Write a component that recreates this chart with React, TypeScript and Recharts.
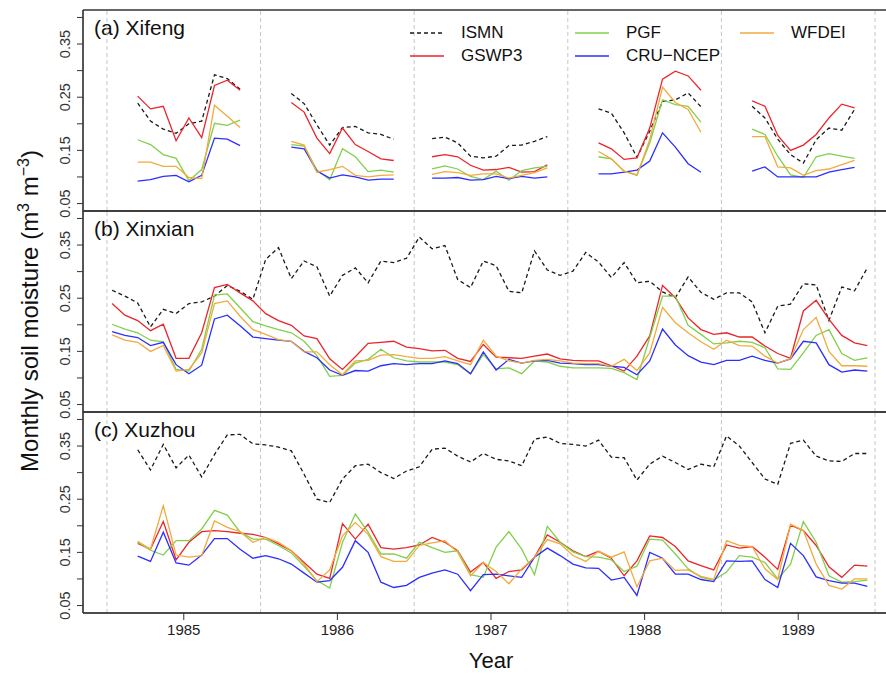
import {
  LineChart,
  Line,
  XAxis,
  YAxis,
  ReferenceLine,
  Legend,
  Customized,
} from 'recharts';

// monthly time axis, Jul 1984 .. Jun 1989 (decimal years)
const months = Array.from({ length: 60 }, (_, i) => 1984.5 + (i + 0.4) / 12);
const yearTicks = [1985, 1986, 1987, 1988, 1989];
const yearBreaks = [1984.5, 1985.5, 1986.5, 1987.5, 1988.5, 1989.5];
const yTicks = [0.05, 0.1, 0.15, 0.2, 0.25, 0.3, 0.35, 0.4];

const _ = null;

// (a) Xifeng
const ismnA = [_, _, 0.239, 0.205, 0.19, 0.182, 0.2, 0.205, 0.292, 0.285, 0.265, _, _, _, 0.257, 0.238, 0.198, 0.16, 0.193, 0.195, 0.183, 0.18, 0.171, _, _, 0.172, 0.175, 0.164, 0.139, 0.136, 0.139, 0.159, 0.16, 0.167, 0.176, _, _, _, 0.228, 0.22, 0.183, 0.137, 0.186, 0.242, 0.245, 0.258, 0.232, _, _, _, 0.233, 0.211, 0.171, 0.142, 0.126, 0.17, 0.192, 0.188, 0.227, _];
const gswpA = [_, _, 0.252, 0.228, 0.233, 0.168, 0.211, 0.174, 0.272, 0.282, 0.263, _, _, _, 0.24, 0.222, 0.173, 0.144, 0.192, 0.161, 0.148, 0.134, 0.131, _, _, 0.138, 0.142, 0.138, 0.122, 0.113, 0.114, 0.118, 0.109, 0.11, 0.123, _, _, _, 0.164, 0.153, 0.133, 0.136, 0.192, 0.284, 0.299, 0.29, 0.263, _, _, _, 0.243, 0.233, 0.178, 0.15, 0.16, 0.18, 0.211, 0.237, 0.23, _];
const pgfA = [_, _, 0.17, 0.161, 0.142, 0.135, 0.093, 0.114, 0.201, 0.197, 0.207, _, _, _, 0.161, 0.158, 0.113, 0.095, 0.153, 0.138, 0.11, 0.113, 0.109, _, _, 0.115, 0.121, 0.115, 0.101, 0.095, 0.111, 0.094, 0.112, 0.117, 0.12, _, _, _, 0.138, 0.134, 0.111, 0.104, 0.164, 0.245, 0.236, 0.233, 0.203, _, _, _, 0.19, 0.18, 0.139, 0.104, 0.099, 0.138, 0.144, 0.139, 0.135, _];
const wfdeiA = [_, _, 0.128, 0.128, 0.12, 0.12, 0.099, 0.097, 0.235, 0.214, 0.193, _, _, _, 0.167, 0.16, 0.109, 0.114, 0.12, 0.103, 0.1, 0.103, 0.104, _, _, 0.105, 0.11, 0.108, 0.103, 0.106, 0.106, 0.098, 0.103, 0.108, 0.117, _, _, _, 0.148, 0.134, 0.111, 0.103, 0.17, 0.269, 0.24, 0.227, 0.184, _, _, _, 0.176, 0.176, 0.119, 0.117, 0.103, 0.112, 0.115, 0.123, 0.131, _];
const cruA = [_, _, 0.092, 0.095, 0.101, 0.103, 0.091, 0.103, 0.173, 0.171, 0.159, _, _, _, 0.156, 0.153, 0.111, 0.098, 0.104, 0.1, 0.094, 0.096, 0.096, _, _, 0.098, 0.098, 0.099, 0.094, 0.095, 0.101, 0.097, 0.101, 0.098, 0.1, _, _, _, 0.106, 0.106, 0.109, 0.113, 0.13, 0.183, 0.156, 0.125, 0.109, _, _, _, 0.111, 0.119, 0.1, 0.1, 0.1, 0.1, 0.109, 0.114, 0.118, _];

// (b) Xinxian
const ismnB = [0.265, 0.254, 0.241, 0.196, 0.229, 0.221, 0.24, 0.243, 0.254, 0.274, 0.263, 0.248, 0.323, 0.345, 0.287, 0.32, 0.309, 0.254, 0.293, 0.307, 0.279, 0.32, 0.317, 0.325, 0.365, 0.343, 0.349, 0.285, 0.27, 0.32, 0.311, 0.263, 0.26, 0.339, 0.303, 0.293, 0.301, 0.336, 0.318, 0.289, 0.317, 0.279, 0.282, 0.262, 0.251, 0.29, 0.261, 0.248, 0.26, 0.26, 0.243, 0.185, 0.235, 0.239, 0.277, 0.275, 0.208, 0.271, 0.264, 0.307];
const gswpB = [0.24, 0.218, 0.208, 0.189, 0.201, 0.137, 0.137, 0.185, 0.27, 0.276, 0.26, 0.245, 0.221, 0.208, 0.199, 0.179, 0.174, 0.136, 0.116, 0.14, 0.165, 0.167, 0.169, 0.158, 0.155, 0.151, 0.152, 0.137, 0.131, 0.163, 0.139, 0.138, 0.137, 0.141, 0.145, 0.136, 0.133, 0.132, 0.132, 0.123, 0.113, 0.141, 0.179, 0.274, 0.251, 0.213, 0.191, 0.182, 0.185, 0.177, 0.177, 0.16, 0.146, 0.137, 0.226, 0.246, 0.21, 0.18, 0.166, 0.161];
const pgfB = [0.201, 0.192, 0.185, 0.171, 0.168, 0.116, 0.113, 0.154, 0.256, 0.258, 0.232, 0.206, 0.198, 0.191, 0.185, 0.169, 0.142, 0.103, 0.105, 0.128, 0.135, 0.154, 0.138, 0.132, 0.13, 0.13, 0.13, 0.125, 0.108, 0.144, 0.117, 0.119, 0.108, 0.132, 0.13, 0.122, 0.119, 0.119, 0.119, 0.118, 0.11, 0.097, 0.176, 0.254, 0.254, 0.199, 0.182, 0.164, 0.166, 0.169, 0.167, 0.157, 0.117, 0.116, 0.147, 0.18, 0.191, 0.146, 0.133, 0.138];
const wfdeiB = [0.181, 0.171, 0.167, 0.15, 0.161, 0.113, 0.116, 0.147, 0.24, 0.245, 0.216, 0.191, 0.182, 0.172, 0.169, 0.149, 0.149, 0.125, 0.106, 0.132, 0.133, 0.143, 0.144, 0.14, 0.137, 0.137, 0.14, 0.132, 0.125, 0.171, 0.141, 0.132, 0.128, 0.133, 0.135, 0.132, 0.128, 0.127, 0.127, 0.122, 0.135, 0.114, 0.147, 0.233, 0.204, 0.185, 0.168, 0.154, 0.171, 0.161, 0.16, 0.141, 0.128, 0.136, 0.191, 0.214, 0.15, 0.123, 0.123, 0.122];
const cruB = [0.187, 0.18, 0.176, 0.161, 0.167, 0.125, 0.108, 0.124, 0.211, 0.218, 0.198, 0.177, 0.174, 0.171, 0.169, 0.15, 0.138, 0.115, 0.105, 0.114, 0.113, 0.123, 0.127, 0.125, 0.127, 0.127, 0.132, 0.127, 0.108, 0.149, 0.115, 0.135, 0.128, 0.132, 0.133, 0.128, 0.127, 0.125, 0.125, 0.122, 0.12, 0.106, 0.132, 0.192, 0.162, 0.142, 0.13, 0.125, 0.133, 0.133, 0.141, 0.133, 0.128, 0.136, 0.169, 0.166, 0.125, 0.111, 0.115, 0.113];

// (c) Xuzhou
const ismnC = [_, _, 0.343, 0.305, 0.353, 0.309, 0.333, 0.292, 0.334, 0.371, 0.372, 0.354, 0.352, 0.348, 0.341, 0.297, 0.25, 0.244, 0.288, 0.313, 0.316, 0.3, 0.289, 0.303, 0.311, 0.344, 0.346, 0.331, 0.32, 0.336, 0.325, 0.322, 0.313, 0.363, 0.367, 0.355, 0.353, 0.35, 0.361, 0.329, 0.328, 0.286, 0.316, 0.331, 0.319, 0.306, 0.316, 0.311, 0.369, 0.35, 0.319, 0.288, 0.278, 0.355, 0.361, 0.331, 0.322, 0.321, 0.336, 0.336];
const gswpC = [_, _, 0.167, 0.156, 0.208, 0.136, 0.169, 0.189, 0.191, 0.189, 0.186, 0.184, 0.178, 0.166, 0.153, 0.131, 0.109, 0.101, 0.204, 0.175, 0.203, 0.159, 0.156, 0.159, 0.164, 0.178, 0.169, 0.153, 0.113, 0.131, 0.101, 0.114, 0.117, 0.141, 0.183, 0.169, 0.153, 0.142, 0.152, 0.139, 0.106, 0.134, 0.181, 0.178, 0.161, 0.134, 0.125, 0.117, 0.164, 0.158, 0.161, 0.141, 0.118, 0.201, 0.191, 0.163, 0.123, 0.103, 0.126, 0.124];
const pgfC = [_, _, 0.169, 0.154, 0.145, 0.172, 0.172, 0.194, 0.229, 0.22, 0.188, 0.175, 0.175, 0.163, 0.149, 0.124, 0.097, 0.083, 0.169, 0.222, 0.188, 0.147, 0.147, 0.139, 0.169, 0.159, 0.15, 0.153, 0.108, 0.103, 0.16, 0.189, 0.156, 0.108, 0.199, 0.169, 0.151, 0.142, 0.141, 0.136, 0.114, 0.124, 0.175, 0.173, 0.147, 0.119, 0.103, 0.098, 0.113, 0.144, 0.141, 0.131, 0.1, 0.128, 0.208, 0.169, 0.106, 0.094, 0.095, 0.098];
const wfdeiC = [_, _, 0.171, 0.156, 0.238, 0.145, 0.141, 0.144, 0.209, 0.197, 0.189, 0.169, 0.178, 0.169, 0.153, 0.128, 0.095, 0.117, 0.181, 0.206, 0.184, 0.142, 0.133, 0.133, 0.163, 0.168, 0.172, 0.15, 0.106, 0.131, 0.114, 0.091, 0.119, 0.141, 0.174, 0.166, 0.144, 0.133, 0.152, 0.141, 0.151, 0.085, 0.134, 0.139, 0.116, 0.117, 0.105, 0.099, 0.172, 0.163, 0.161, 0.119, 0.099, 0.203, 0.191, 0.128, 0.088, 0.081, 0.1, 0.1];
const cruC = [_, _, 0.143, 0.133, 0.188, 0.13, 0.126, 0.145, 0.176, 0.176, 0.156, 0.139, 0.144, 0.138, 0.128, 0.111, 0.094, 0.097, 0.122, 0.172, 0.15, 0.094, 0.084, 0.088, 0.103, 0.111, 0.117, 0.109, 0.078, 0.108, 0.109, 0.106, 0.103, 0.141, 0.158, 0.144, 0.128, 0.121, 0.12, 0.098, 0.103, 0.069, 0.15, 0.139, 0.109, 0.109, 0.099, 0.095, 0.134, 0.133, 0.134, 0.099, 0.084, 0.167, 0.144, 0.104, 0.097, 0.092, 0.092, 0.086];

const series = [
  { key: 'ISMN', color: '#1a1a1a', dash: '4 3' },
  { key: 'GSWP3', color: '#e9262b' },
  { key: 'PGF', color: '#80d04c' },
  { key: 'CRU−NCEP', color: '#2d2dff' },
  { key: 'WFDEI', color: '#f2aa3c' },
];

const buildRows = (cols: (number | null)[][]) =>
  months.map((x, i) => {
    const row: Record<string, number | null> = { x };
    series.forEach((s, j) => {
      row[s.key] = cols[j][i];
    });
    return row;
  });

const panels = [
  { title: '(a) Xifeng', rows: buildRows([ismnA, gswpA, pgfA, cruA, wfdeiA]), top: 10 },
  { title: '(b) Xinxian', rows: buildRows([ismnB, gswpB, pgfB, cruB, wfdeiB]), top: 211 },
  { title: '(c) Xuzhou', rows: buildRows([ismnC, gswpC, pgfC, cruC, wfdeiC]), top: 412 },
];

const W = 910;
const H = 676;
const PANEL_H = 201;
const xDomain = [1984.344, 1989.656];
const yDomain = [0.036, 0.414];
const axisColor = '#333';

// legend layout: 3 columns, 2 rows
const legendSlots = [
  { key: 'ISMN', x: 410, y: 33 },
  { key: 'GSWP3', x: 410, y: 56 },
  { key: 'PGF', x: 575, y: 33 },
  { key: 'CRU−NCEP', x: 575, y: 56 },
  { key: 'WFDEI', x: 740, y: 33 },
];

function LegendBox() {
  return (
    <div style={{ position: 'relative', width: 886, height: 70 }}>
      {legendSlots.map((slot) => {
        const s = series.find((d) => d.key === slot.key)!;
        return (
          <div key={slot.key}>
            <svg
              width={34}
              height={4}
              style={{ position: 'absolute', left: slot.x, top: slot.y - 2 }}
            >
              <line x1={0} x2={34} y1={2} y2={2} stroke={s.color} strokeWidth={1.3} strokeDasharray={s.dash} />
            </svg>
            <span
              style={{
                position: 'absolute',
                left: slot.x + 51,
                top: slot.y - 10,
                fontSize: 17,
                lineHeight: '20px',
                color: '#111',
                whiteSpace: 'nowrap',
              }}
            >
              {s.key}
            </span>
          </div>
        );
      })}
    </div>
  );
}

function YTick(props: any) {
  const { x, y, payload } = props;
  const v = payload.value as number;
  if (Math.round(v * 100) % 10 !== 5) return <g />;
  return (
    <text
      transform={`translate(${x - 5},${y}) rotate(-90)`}
      textAnchor="middle"
      fontSize={14.5}
      fill="#333"
    >
      {v.toFixed(2)}
    </text>
  );
}

export default function App() {
  return (
    <div
      style={{
        position: 'fixed',
        left: 0,
        top: 0,
        width: 886,
        height: H,
        overflow: 'hidden',
        background: '#fff',
        fontFamily: "'Liberation Sans', Arial, Helvetica, sans-serif",
      }}
    >
      {panels.map((p, idx) => {
        const last = idx === panels.length - 1;
        const bottom = last ? 0 : H - p.top - PANEL_H;
        return (
          <div key={p.title} style={{ position: 'absolute', left: 0, top: 0 }}>
            <LineChart
              width={W}
              height={H}
              data={p.rows}
              margin={{ top: p.top, right: W - 899, bottom, left: 0 }}
            >
              <XAxis
                dataKey="x"
                type="number"
                domain={xDomain}
                allowDataOverflow
                ticks={yearTicks}
                interval={0}
                height={last ? H - p.top - PANEL_H : 0}
                tick={last ? { fontSize: 15, fill: '#222' } : false}
                tickLine={last ? { stroke: axisColor } : false}
                tickSize={7}
                tickMargin={4}
                stroke={axisColor}
                label={last ? { value: 'Year', position: 'insideBottom', offset: 8, fontSize: 22, fill: '#111' } : undefined}
              />
              <YAxis
                type="number"
                domain={yDomain}
                allowDataOverflow
                ticks={yTicks}
                interval={0}
                width={83}
                tickSize={6}
                tick={<YTick />}
                stroke={axisColor}
              />
              {yearBreaks.map((b) => (
                <ReferenceLine key={b} x={b} stroke="#c6c6c6" strokeDasharray="4 3" />
              ))}
              {/* panel box: top, bottom, left */}
              <ReferenceLine y={yDomain[1]} stroke={axisColor} strokeWidth={1.3} ifOverflow="visible" />
              <ReferenceLine y={yDomain[0]} stroke={axisColor} strokeWidth={1.3} ifOverflow="visible" />
              <ReferenceLine x={xDomain[0]} stroke={axisColor} strokeWidth={1.3} ifOverflow="visible" />
              {series.map((s) => (
                <Line
                  key={s.key}
                  type="linear"
                  dataKey={s.key}
                  stroke={s.color}
                  strokeWidth={1.3}
                  strokeDasharray={s.dash}
                  dot={false}
                  activeDot={false}
                  connectNulls={false}
                  isAnimationActive={false}
                />
              ))}
              <Customized
                component={() => (
                  <text x={94} y={p.top + 25} fontSize={21} fill="#111">
                    {p.title}
                  </text>
                )}
              />
              {idx === 1 && (
                <Customized
                  component={() => (
                    <text
                      transform="translate(38,311) rotate(-90)"
                      textAnchor="middle"
                      fontSize={24}
                      fill="#111"
                    >
                      Monthly soil moisture (m
                      <tspan dy={-9} fontSize={16}>3</tspan>
                      <tspan dy={9}> m</tspan>
                      <tspan dy={-9} fontSize={16}>−3</tspan>
                      <tspan dy={9}>)</tspan>
                    </text>
                  )}
                />
              )}
              {idx === 0 && (
                <Legend
                  layout="horizontal"
                  verticalAlign="middle"
                  align="center"
                  wrapperStyle={{ left: 0, top: 0, width: 886, height: 70 }}
                  content={() => <LegendBox />}
                />
              )}
            </LineChart>
          </div>
        );
      })}
    </div>
  );
}
